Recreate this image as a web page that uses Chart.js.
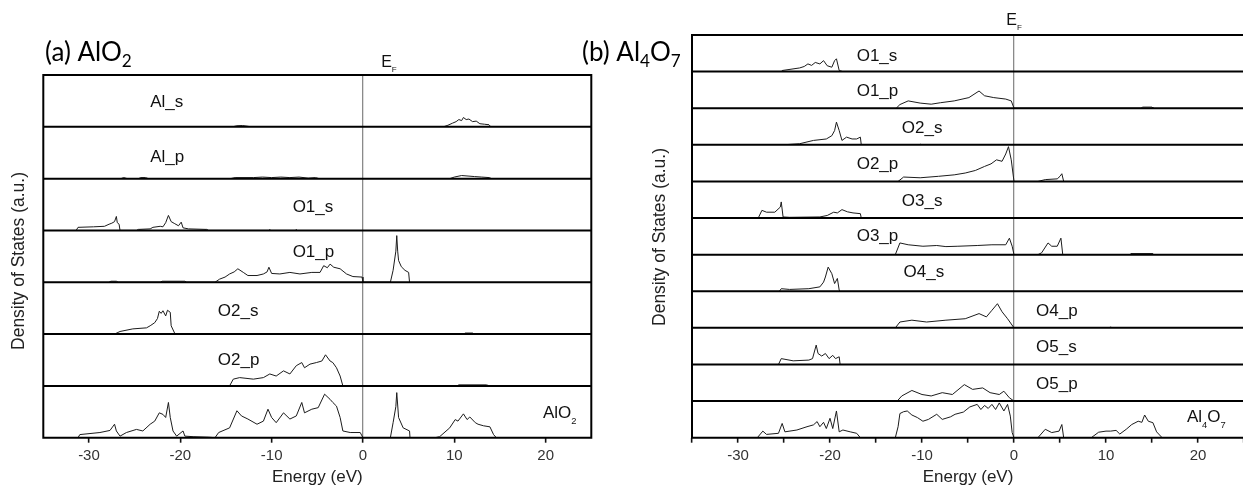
<!DOCTYPE html>
<html>
<head>
<meta charset="utf-8">
<script src="https://cdn.jsdelivr.net/npm/chart.js@4.4.1/dist/chart.umd.min.js"></script>
<style>
  html, body { margin: 0; padding: 0; background: #fff; overflow: hidden; width: 1243px; height: 491px; }
  canvas { position: absolute; top: 0; }
</style>
</head>
<body>
<canvas id="panelA" width="600" height="491" style="left:0"></canvas>
<canvas id="panelB" width="680" height="491" style="left:570px"></canvas>
<script>
// Projected density of states, [energy (eV), DOS (a.u., fraction of row height)]
// ---- (a) AlO2 ----
const alo2_Al_s = [[-14.3,0],[-13.8,0.02],[-13.2,0.025],[-12.6,0.01],[-12.3,0],[8.8,0],[9.3,0.03],[9.8,0.07],[10.2,0.1],[10.5,0.14],[10.8,0.12],[11.0,0.18],[11.3,0.14],[11.6,0.15],[12.0,0.1],[12.4,0.11],[12.8,0.06],[13.3,0.05],[13.8,0.04],[14.0,0]];
const alo2_Al_p = [[-26.5,0],[-26.2,0.02],[-25.8,0],[-24.6,0],[-24.3,0.02],[-23.8,0.02],[-23.5,0],[-14.5,0],[-14,0.02],[-12,0.02],[-11,0.03],[-10,0.02],[-9,0.03],[-8,0.02],[-7,0.03],[-6,0.01],[-5.2,0.02],[-4.8,0],[9.5,0],[10,0.03],[10.8,0.06],[11.5,0.05],[12.2,0.04],[13,0.03],[13.8,0.02],[14.1,0]];
const alo2_O1_s = [[-31.4,0],[-31.2,0.06],[-29.5,0.07],[-28.3,0.08],[-27.8,0.12],[-27.5,0.14],[-27.2,0.17],[-27.0,0.27],[-26.9,0.15],[-26.7,0.12],[-26.6,0],[-24.8,0],[-24.6,0.02],[-23.3,0.03],[-23.0,0.06],[-22.2,0.08],[-21.9,0.07],[-21.6,0.15],[-21.3,0.29],[-21.0,0.17],[-20.6,0.13],[-20.2,0.09],[-19.9,0.16],[-19.7,0.05],[-19.1,0.03],[-17.1,0.02],[-16.9,0],[-10.3,0],[-10.2,0.02],[-10.1,0],[-7.4,0],[-7.3,0.02],[-7.2,0]];
const alo2_O1_p = [[-27.8,0],[-27.6,0.02],[-27,0.02],[-26.8,0],[-22.2,0],[-22,0.02],[-19.5,0.02],[-19.3,0],[-16.2,0],[-15.7,0.06],[-15.1,0.1],[-14.6,0.16],[-14.1,0.2],[-13.7,0.26],[-13.1,0.19],[-12.6,0.13],[-11.6,0.13],[-10.9,0.16],[-10.5,0.2],[-10.3,0.29],[-10.0,0.17],[-9.1,0.16],[-8.0,0.19],[-6.9,0.16],[-5.6,0.19],[-4.7,0.19],[-4.3,0.32],[-3.9,0.28],[-3.6,0.35],[-3.2,0.29],[-2.5,0.26],[-1.8,0.16],[-1.1,0.11],[-0.1,0.1],[0,0],[3.0,0],[3.3,0.23],[3.6,0.6],[3.7,0.9],[3.8,0.6],[3.9,0.42],[4.2,0.3],[4.6,0.23],[5.0,0.19],[5.1,0]];
const alo2_O2_s = [[-27.2,0],[-26.6,0.05],[-25.2,0.1],[-23.7,0.12],[-23.3,0.16],[-22.8,0.22],[-22.5,0.3],[-22.3,0.44],[-22.1,0.4],[-21.9,0.45],[-21.6,0.35],[-21.4,0.46],[-21.1,0.42],[-21.0,0.16],[-20.6,0.01],[-20.4,0],[-13.6,0],[-13.5,0.02],[-13.4,0],[11,0],[11.2,0.02],[12,0.02],[12.2,0]];
const alo2_O2_p = [[-14.6,0],[-14.2,0.13],[-13.5,0.16],[-12.0,0.13],[-10.9,0.16],[-10.2,0.23],[-9.5,0.19],[-8.7,0.29],[-8.0,0.23],[-7.3,0.39],[-6.7,0.45],[-6.4,0.35],[-5.8,0.42],[-5.1,0.45],[-4.5,0.48],[-4.1,0.6],[-3.6,0.48],[-3.3,0.45],[-2.9,0.35],[-2.5,0.19],[-2.2,0],[10.3,0],[10.5,0.02],[13.5,0.02],[13.9,0]];
const alo2_total = [[-31.2,0],[-31,0.06],[-28.8,0.1],[-27.7,0.14],[-27.2,0.26],[-27.0,0.13],[-26.6,0.03],[-25.9,0.1],[-24.8,0.16],[-24.1,0.13],[-23.3,0.26],[-22.8,0.32],[-22.3,0.48],[-21.9,0.45],[-21.6,0.39],[-21.3,0.68],[-21.1,0.39],[-20.8,0.13],[-20.4,0.03],[-19.7,0.13],[-19.5,0.03],[-18.6,0.02],[-16.9,0.01],[-16.2,0],[-15.8,0.1],[-14.6,0.19],[-13.8,0.52],[-13.3,0.42],[-12.6,0.36],[-11.6,0.26],[-10.9,0.32],[-10.4,0.55],[-10.0,0.39],[-9.5,0.29],[-8.7,0.48],[-8.0,0.36],[-7.3,0.42],[-6.7,0.68],[-6.4,0.48],[-5.6,0.55],[-4.9,0.58],[-4.2,0.84],[-3.6,0.74],[-3.3,0.68],[-2.9,0.61],[-2.5,0.39],[-2.2,0.13],[-1.4,0.1],[-0.3,0.1],[0,0],[3.0,0],[3.3,0.29],[3.6,0.6],[3.7,0.87],[3.9,0.39],[4.4,0.19],[5.1,0.13],[5.15,0],[7.9,0],[8.4,0.02],[9.5,0.19],[10.1,0.35],[10.4,0.32],[11.0,0.46],[11.4,0.35],[11.7,0.4],[12.3,0.29],[12.6,0.26],[13.2,0.23],[13.9,0.21],[14.3,0.06],[14.6,0]];

// ---- (b) Al4O7 ----
const al4o7_O1_s = [[-25.3,0],[-25.2,0.03],[-23.3,0.1],[-22.8,0.14],[-22.4,0.21],[-22.0,0.17],[-21.6,0.25],[-21.1,0.21],[-20.7,0.3],[-20.3,0.16],[-19.8,0.12],[-19.5,0.3],[-19.3,0.35],[-19.0,0.03],[-18.6,0]];
const al4o7_O1_p = [[-12.8,0],[-12.4,0.1],[-11.5,0.2],[-10.2,0.14],[-9.0,0.11],[-8.0,0.15],[-6.5,0.2],[-4.9,0.29],[-3.8,0.47],[-3.2,0.34],[-2.2,0.29],[-0.9,0.25],[-0.3,0.2],[0,0],[13.8,0],[14,0.03],[15,0.03],[15.1,0]];
const al4o7_O2_s = [[-25.1,0],[-23.3,0.03],[-21.8,0.12],[-20.4,0.16],[-19.8,0.25],[-19.5,0.39],[-19.3,0.62],[-19.0,0.39],[-18.7,0.12],[-18.2,0.21],[-17.6,0.16],[-17.1,0.16],[-16.7,0.21],[-16.6,0],[-10.3,0],[-10.2,0.02],[-10.1,0]];
const al4o7_O2_p = [[-12.6,0],[-12.0,0.12],[-10.2,0.1],[-8.2,0.14],[-6.5,0.18],[-5.3,0.23],[-4.2,0.3],[-3.2,0.41],[-2.5,0.48],[-1.9,0.59],[-1.3,0.55],[-0.9,0.75],[-0.6,0.95],[-0.3,0.59],[0,0],[2.6,0],[3.4,0.05],[4.7,0.07],[5.0,0.14],[5.2,0.21],[5.4,0]];
const al4o7_O3_s = [[-27.8,0],[-27.4,0.21],[-26.9,0.16],[-26.0,0.16],[-25.4,0.3],[-25.3,0.44],[-25.1,0.03],[-24.4,0.02],[-21.1,0.03],[-20.3,0.07],[-19.6,0.16],[-19.2,0.14],[-18.7,0.23],[-18.1,0.17],[-17.5,0.14],[-16.7,0.12],[-16.6,0]];
const al4o7_O3_p = [[-12.9,0],[-12.4,0.32],[-11.5,0.27],[-9.9,0.23],[-8.4,0.25],[-7.4,0.22],[-6.1,0.23],[-4.0,0.25],[-2.4,0.27],[-0.9,0.27],[-0.5,0.45],[-0.2,0.23],[0,0],[2.6,0],[3.0,0.05],[3.7,0.32],[4.1,0.23],[4.7,0.23],[5.1,0.45],[5.3,0],[12.6,0],[12.7,0.03],[15.1,0.03],[15.2,0]];
const al4o7_O4_s = [[-25.5,0],[-25.3,0.07],[-24.4,0.05],[-22.3,0.07],[-21.1,0.12],[-20.7,0.25],[-20.5,0.39],[-20.2,0.66],[-19.8,0.48],[-19.5,0.21],[-19.2,0.35],[-19.0,0.03],[-18.9,0]];
const al4o7_O4_p = [[-12.9,0],[-12.4,0.16],[-11.1,0.21],[-9.5,0.16],[-7.4,0.21],[-5.3,0.25],[-3.8,0.39],[-3.0,0.3],[-2.4,0.48],[-1.8,0.66],[-1.3,0.44],[-0.7,0.25],[0,0],[10.4,0],[10.5,0.03],[10.6,0]];
const al4o7_O5_s = [[-25.6,0],[-25.3,0.16],[-24.0,0.1],[-22.3,0.12],[-21.9,0.16],[-21.5,0.53],[-21.3,0.3],[-20.9,0.23],[-20.5,0.3],[-20.1,0.16],[-19.7,0.25],[-19.4,0.16],[-19.0,0.21],[-18.9,0]];
const al4o7_O5_p = [[-12.7,0],[-12.2,0.14],[-11.1,0.29],[-10.0,0.18],[-9.0,0.14],[-7.8,0.23],[-6.7,0.18],[-5.4,0.45],[-4.5,0.32],[-3.4,0.36],[-2.6,0.23],[-1.6,0.18],[-1.1,0.27],[-0.5,0.09],[0,0]];
const al4o7_total = [[-27.9,0],[-27.3,0.18],[-26.9,0.09],[-25.6,0.12],[-25.2,0.39],[-24.9,0.16],[-23.6,0.21],[-22.5,0.3],[-21.8,0.35],[-21.4,0.44],[-21.1,0.3],[-20.7,0.42],[-20.4,0.25],[-20.0,0.53],[-19.7,0.25],[-19.3,0.73],[-19.0,0.16],[-18.6,0.21],[-17.8,0.16],[-17.1,0.12],[-16.7,0],[-12.9,0],[-12.6,0.3],[-12.4,0.66],[-12.0,0.71],[-11.6,0.73],[-11.1,0.62],[-10.5,0.55],[-9.9,0.45],[-9.3,0.5],[-8.4,0.64],[-7.8,0.5],[-6.9,0.57],[-6.4,0.64],[-5.5,0.7],[-4.8,0.84],[-4.0,0.91],[-3.6,0.77],[-3.2,0.88],[-2.8,0.8],[-2.4,0.91],[-2.0,0.77],[-1.6,0.95],[-1.1,0.73],[-0.7,0.91],[-0.4,0.59],[-0.2,0.14],[0,0],[2.6,0],[3.4,0.23],[4.1,0.14],[4.9,0.18],[5.2,0.36],[5.4,0],[8.4,0],[9.2,0.15],[10.0,0.18],[10.5,0.18],[11.1,0.2],[11.5,0.1],[12.2,0.23],[12.8,0.36],[13.5,0.45],[13.9,0.42],[14.2,0.62],[14.6,0.45],[15.1,0.41],[15.5,0.16],[16.1,0]];

// Energy axis range (eV); labels every 10 eV, tick marks every 5 eV
const energyMin = -35, energyMax = 25;
const tickStep = 5, labelStep = 10;

const SANS = '"Liberation Sans", Arial, sans-serif';
const TITLE_FACE = 'Lato, "Open Sans", sans-serif';

// Rows from top to bottom; label anchor = [energy of label start, height fraction of row]
const rowsA = [
  { data: alo2_Al_s, text: [['Al_s']], at: [-23.3, 0.5] },
  { data: alo2_Al_p, text: [['Al_p']], at: [-23.3, 0.44] },
  { data: alo2_O1_s, text: [['O1_s']], at: [-7.7, 0.47] },
  { data: alo2_O1_p, text: [['O1_p']], at: [-7.7, 0.6] },
  { data: alo2_O2_s, text: [['O2_s']], at: [-15.9, 0.46] },
  { data: alo2_O2_p, text: [['O2_p']], at: [-15.9, 0.52] },
  { data: alo2_total, text: [['AlO'], ['2', 1]], at: [19.7, 0.5] }
];
const rowsB = [
  { data: al4o7_O1_s, text: [['O1_s']], at: [-17.1, 0.45] },
  { data: al4o7_O1_p, text: [['O1_p']], at: [-17.1, 0.5] },
  { data: al4o7_O2_s, text: [['O2_s']], at: [-12.2, 0.5] },
  { data: al4o7_O2_p, text: [['O2_p']], at: [-17.1, 0.5] },
  { data: al4o7_O3_s, text: [['O3_s']], at: [-12.2, 0.5] },
  { data: al4o7_O3_p, text: [['O3_p']], at: [-17.1, 0.55] },
  { data: al4o7_O4_s, text: [['O4_s']], at: [-12.0, 0.55] },
  { data: al4o7_O4_p, text: [['O4_p']], at: [2.4, 0.5] },
  { data: al4o7_O5_s, text: [['O5_s']], at: [2.4, 0.5] },
  { data: al4o7_O5_p, text: [['O5_p']], at: [2.4, 0.5] },
  { data: al4o7_total, text: [['Al'], ['4', 1], ['O'], ['7', 1]], at: [18.8, 0.6] }
];

// Text with subscript runs: parts = [[text, isSub], ...]
function drawParts(ctx, parts, x, y, size, face, subScale, subDrop) {
  let cx = x;
  parts.forEach(([t, sub]) => {
    const s = sub ? size * subScale : size;
    ctx.font = `${s}px ${face}`;
    ctx.fillText(t, cx, sub ? y + size * subDrop : y);
    cx += ctx.measureText(t).width;
  });
  return cx - x;
}
function partsWidth(ctx, parts, size, face, subScale) {
  let w = 0;
  parts.forEach(([t, sub]) => {
    ctx.font = `${sub ? size * subScale : size}px ${face}`;
    w += ctx.measureText(t).width;
  });
  return w;
}

function buildPanel(canvasId, rows, cfg) {
  const isLabelled = v => Math.abs(v % labelStep) < 1e-9;
  const scales = {
    x: {
      type: 'linear', position: 'bottom', min: energyMin, max: energyMax,
      afterFit: s => { s.height = cfg.axisHeight; },
      ticks: {
        stepSize: tickStep, includeBounds: false, autoSkip: false, maxRotation: 0, minRotation: 0,
        padding: 4, color: '#333', font: { family: SANS, size: 15 },
        callback: v => (isLabelled(v) ? String(v) : '')
      },
      grid: {
        drawOnChartArea: true, drawTicks: true, tickLength: 5,
        color: c => (c.tick && c.tick.value === 0 ? '#8a8a8a' : 'rgba(0,0,0,0)'),
        lineWidth: 1.3, tickWidth: 1.6,
        tickColor: c => (cfg.minorTicks || (c.tick && isLabelled(c.tick.value)) ? '#111' : 'rgba(0,0,0,0)')
      },
      border: { display: false },
      title: { display: true, text: 'Energy (eV)', color: '#222', font: { family: SANS, size: 17 }, padding: { top: 0, bottom: 3 } }
    }
  };
  // stacked y scales, one per row; Chart.js places the last declared one on top
  const n = rows.length;
  for (let k = n - 1; k >= 0; k--) {
    scales['r' + k] = {
      type: 'linear', position: 'left', stack: 'rows', stackWeight: 1, min: 0, max: 1,
      afterFit: s => { s.width = 0; },
      ticks: { display: false }, grid: { display: false }, border: { display: false }
    };
  }

  const datasets = rows.map((r, k) => ({
    data: r.data.map(([x, y]) => ({ x, y })),
    yAxisID: 'r' + k,
    borderColor: '#1c1c1c', borderWidth: 1, pointRadius: 0, tension: 0, fill: false
  }));

  const framePlugin = {
    id: 'panelFrame',
    afterDatasetsDraw(chart) {
      const { ctx, chartArea: a } = chart;
      ctx.save();
      ctx.strokeStyle = '#000';
      ctx.lineWidth = 2;
      ctx.beginPath();
      for (let k = 0; k < n - 1; k++) {
        const b = chart.scales['r' + k].bottom;
        ctx.moveTo(a.left, b); ctx.lineTo(a.right, b);
      }
      ctx.rect(a.left, a.top, a.right - a.left, a.bottom - a.top);
      ctx.stroke();
      ctx.restore();
    }
  };

  const LABEL = 17;
  const textPlugin = {
    id: 'panelText',
    afterDraw(chart) {
      const { ctx, chartArea: a } = chart;
      const xs = chart.scales.x;
      ctx.save();
      ctx.fillStyle = '#111';
      ctx.textBaseline = 'alphabetic';
      ctx.textAlign = 'left';
      // row labels
      rows.forEach((r, k) => {
        const ys = chart.scales['r' + k];
        const px = xs.getPixelForValue(r.at[0]);
        const py = ys.getPixelForValue(r.at[1]);
        drawParts(ctx, r.text, px, py + LABEL * 0.36, LABEL, SANS, 0.55, 0.38);
      });
      // Fermi level marker
      const e = [['E'], ['F', 1]];
      const w = partsWidth(ctx, e, 16, SANS, 0.5);
      drawParts(ctx, e, xs.getPixelForValue(0) - w / 2 + cfg.efShift, a.top - cfg.efLift, 16, SANS, 0.5, 0.3);
      // panel title
      ctx.fillStyle = '#000';
      drawParts(ctx, cfg.title, cfg.titleX, cfg.titleY, 26, TITLE_FACE, 0.66, 0.22);
      // y axis title
      ctx.save();
      ctx.translate(cfg.yTitleX, cfg.yTitleY);
      ctx.rotate(-Math.PI / 2);
      ctx.textAlign = 'center';
      ctx.textBaseline = 'middle';
      ctx.fillStyle = '#222';
      ctx.font = `17.5px ${SANS}`;
      ctx.fillText('Density of States (a.u.)', 0, 0);
      ctx.restore();
      ctx.restore();
    }
  };

  return new Chart(document.getElementById(canvasId), {
    type: 'line',
    data: { datasets },
    options: {
      responsive: false, animation: false, events: [],
      layout: { padding: cfg.padding },
      plugins: { legend: { display: false }, tooltip: { enabled: false } },
      scales
    },
    plugins: [framePlugin, textPlugin]
  });
}

buildPanel('panelA', rowsA, {
  minorTicks: false, axisHeight: 53.3,
  padding: { left: 43.3, right: 8.7, top: 75, bottom: 0 },
  title: [['(a) AlO'], ['2', 1]], titleX: 45, titleY: 61,
  yTitleX: 19.5, yTitleY: 261, efShift: 26, efLift: 8
});
buildPanel('panelB', rowsB, {
  minorTicks: true, axisHeight: 53.3,
  padding: { left: 122, right: 6, top: 35, bottom: 0 },
  title: [['(b) Al'], ['4', 1], ['O'], ['7', 1]], titleX: 12, titleY: 61,
  yTitleX: 90, yTitleY: 237, efShift: 0, efLift: 10
});
</script>
</body>
</html>
